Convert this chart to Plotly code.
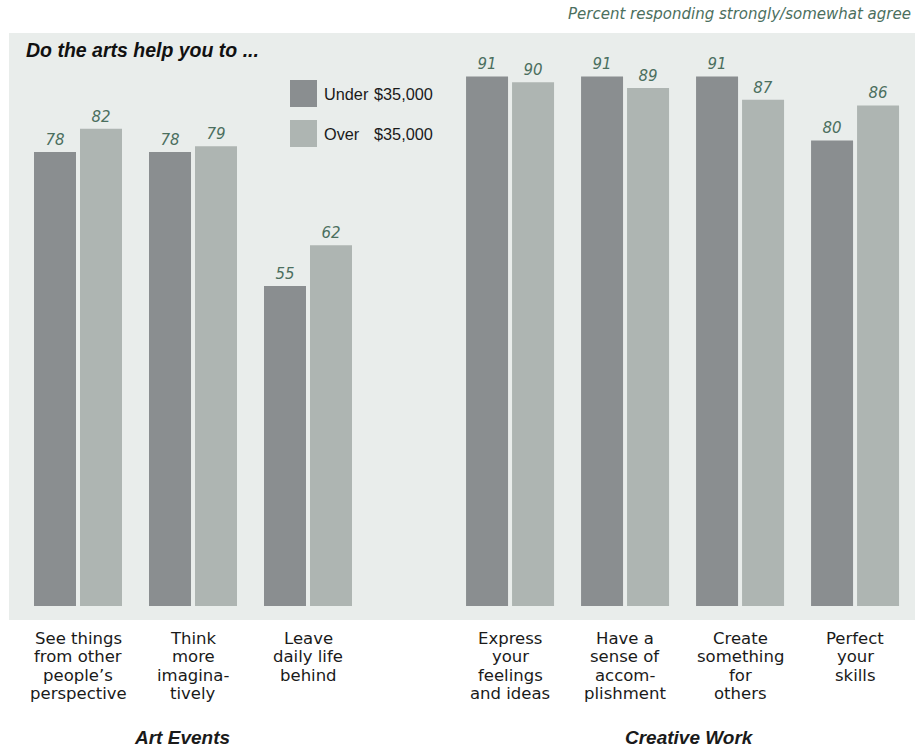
import plotly.graph_objects as go

# ---------------- data ----------------
art_categories = [
    ["See things", "from other", "people\u2019s", "perspective"],
    ["Think", "more", "imagina-", "tively"],
    ["Leave", "daily life", "behind"],
]
creative_categories = [
    ["Express", "your", "feelings", "and ideas"],
    ["Have a", "sense of", "accom-", "plishment"],
    ["Create", "something", "for", "others"],
    ["Perfect", "your", "skills"],
]
under_35k_art = [78, 78, 55]
over_35k_art = [82, 79, 62]
under_35k_creative = [91, 91, 91, 80]
over_35k_creative = [90, 89, 87, 86]

series_names = ["Under", "Over"]
series_amount = "$35,000"
section_names = ["Art Events", "Creative Work"]
title_text = "Do the arts help you to ..."
note_text = "Percent responding strongly/somewhat agree"

# ---------------- styles / layout constants ----------------
W, H = 915, 747
ML, MR, MT, MB = 9, 0, 33, 127
PW, PH = W - ML - MR, H - MT - MB
SECTION_GAP = 1.757
UNIT_PX = 115.0
BAR_W = 42 / UNIT_PX
DARK = "#8a8e90"
LIGHT = "#aeb5b2"
BG = "#e9edeb"
GREEN = "#4b6f5e"
TXT = "#1a1a1a"

art_x = list(range(len(art_categories)))
cre_x = [art_x[-1] + SECTION_GAP + i for i in range(len(creative_categories))]
xs = art_x + cre_x
cats = art_categories + creative_categories
under = under_35k_art + under_35k_creative
over = over_35k_art + over_35k_creative

x0 = -69 / UNIT_PX
x1 = x0 + PW / UNIT_PX
y_per_px = 1 / 5.82
ymin = -14 * y_per_px
ymax = ymin + PH * y_per_px

def px_x(px):
    return (px - ML) / PW

def px_y(py):
    return (H - MB - py) / PH

fig = go.Figure()
label_font = dict(family="DejaVu Sans", size=15, color=GREEN, style="italic")
for vals, name, color, off in [
    (under, series_names[0], DARK, -44 / UNIT_PX),
    (over, series_names[1], LIGHT, 2 / UNIT_PX),
]:
    fig.add_trace(go.Bar(
        x=xs, y=vals, name=name, marker=dict(color=color, line=dict(width=0)),
        width=BAR_W, offset=off,
        text=[str(v) for v in vals], textposition="outside",
        textfont=label_font, cliponaxis=False, showlegend=False,
    ))

annotations = []
shapes = []

# category labels, one annotation per line
LINE_H = 18.3
for x, lines in zip(xs, cats):
    for i, line in enumerate(lines):
        annotations.append(dict(
            x=x, xref="x", y=0, yref="paper", yanchor="middle", xanchor="center",
            yshift=-(18.5 + LINE_H * i), text=line, showarrow=False,
            font=dict(family="DejaVu Sans", size=16.5, color=TXT),
        ))

# section labels
sec_font = dict(family="Liberation Sans", size=19, color=TXT, weight="bold", style="italic")
annotations.append(dict(x=px_x(182), xref="paper", y=px_y(737), yref="paper",
                        text=section_names[0], showarrow=False, font=sec_font,
                        xanchor="center", yanchor="middle"))
annotations.append(dict(x=px_x(689), xref="paper", y=px_y(737), yref="paper",
                        text=section_names[1], showarrow=False, font=sec_font,
                        xanchor="center", yanchor="middle"))

# title inside plot
annotations.append(dict(x=px_x(24), xref="paper", y=px_y(50), yref="paper",
                        text=title_text, showarrow=False,
                        font=dict(family="Liberation Sans", size=19.5, color="#111111",
                                  weight="bold", style="italic"),
                        xanchor="left", yanchor="middle"))

# top-right note
annotations.append(dict(x=px_x(913), xref="paper", y=px_y(14), yref="paper",
                        text=note_text, showarrow=False,
                        font=dict(family="DejaVu Sans", size=15, color=GREEN, style="italic"),
                        xanchor="right", yanchor="middle"))

# manual legend
leg_font = dict(family="Liberation Sans", size=16.3, color=TXT)
for (top, color, name) in [(80, DARK, series_names[0]), (120, LIGHT, series_names[1])]:
    shapes.append(dict(type="rect", xref="paper", yref="paper",
                       x0=px_x(290), x1=px_x(317), y0=px_y(top + 27), y1=px_y(top),
                       fillcolor=color, line=dict(width=0)))
    annotations.append(dict(x=px_x(322), xref="paper", y=px_y(top + 14), yref="paper",
                            text=name, showarrow=False, font=leg_font,
                            xanchor="left", yanchor="middle"))
    annotations.append(dict(x=px_x(372), xref="paper", y=px_y(top + 14), yref="paper",
                            text=series_amount, showarrow=False, font=leg_font,
                            xanchor="left", yanchor="middle"))

fig.update_layout(
    width=W, height=H,
    margin=dict(l=ML, r=MR, t=MT, b=MB, pad=0),
    paper_bgcolor="white", plot_bgcolor=BG,
    barmode="overlay", showlegend=False,
    xaxis=dict(range=[x0, x1], showgrid=False, zeroline=False, showticklabels=False,
               ticks="", showline=False, fixedrange=True),
    yaxis=dict(range=[ymin, ymax], showgrid=False, zeroline=False, showticklabels=False,
               ticks="", showline=False, fixedrange=True),
    annotations=annotations, shapes=shapes,
    font=dict(family="DejaVu Sans"),
)

fig.write_html(
    "out.html",
    config={"displayModeBar": False},
    post_script="document.body.style.margin='0';document.body.style.overflow='hidden';",
)
